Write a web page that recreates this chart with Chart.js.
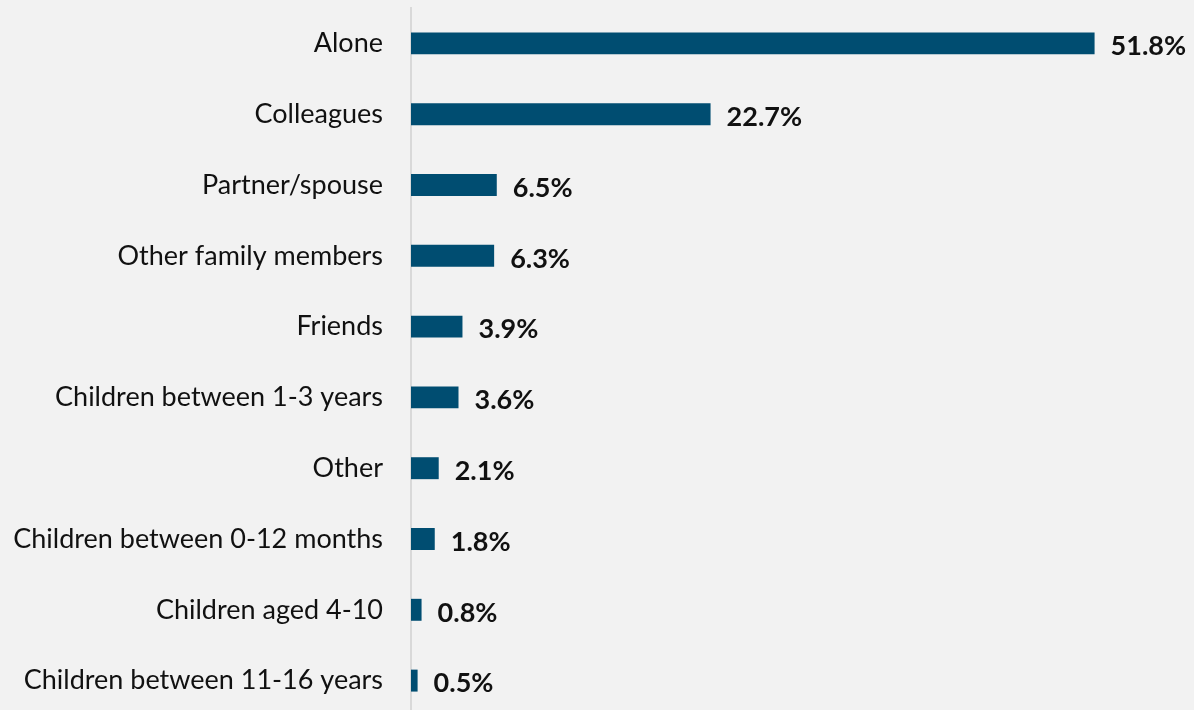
<!DOCTYPE html>
<html>
<head>
<meta charset="utf-8">
<script src="https://cdn.jsdelivr.net/npm/chart.js@4"></script>
<style>
  html, body { margin: 0; padding: 0; background: #f2f2f2; overflow: hidden; }
  #wrap { width: 1194px; height: 716px; position: relative; }
</style>
</head>
<body>
<div id="wrap"><canvas id="withWhom"></canvas></div>
<script>
const categories = [
  'Alone',
  'Colleagues',
  'Partner/spouse',
  'Other family members',
  'Friends',
  'Children between 1-3 years',
  'Other',
  'Children between 0-12 months',
  'Children aged 4-10',
  'Children between 11-16 years'
];
const shares = [51.8, 22.7, 6.5, 6.3, 3.9, 3.6, 2.1, 1.8, 0.8, 0.5];

// value labels at the end of each bar
const valueLabels = {
  id: 'valueLabels',
  afterDatasetsDraw(chart) {
    const ctx = chart.ctx;
    const meta = chart.getDatasetMeta(0);
    ctx.save();
    ctx.font = 'bold 27px Lato';
    ctx.fillStyle = '#111';
    ctx.textAlign = 'left';
    ctx.textBaseline = 'middle';
    meta.data.forEach((bar, i) => {
      ctx.fillText(shares[i].toFixed(1) + '%', bar.x + 16, bar.y + 3);
    });
    ctx.restore();
  }
};

const ctx = document.getElementById('withWhom').getContext('2d');
const withWhomChart = new Chart(ctx, {
  type: 'bar',
  data: {
    labels: categories,
    datasets: [{
      data: shares,
      backgroundColor: '#004d71',
      barPercentage: 0.31,
      categoryPercentage: 1.0
    }]
  },
  plugins: [valueLabels],
  options: {
    indexAxis: 'y',
    responsive: true,
    maintainAspectRatio: false,
    animation: false,
    layout: { padding: { top: 8, right: 44, left: 12, bottom: 0 } },
    plugins: {
      legend: { display: false },
      tooltip: { enabled: false }
    },
    scales: {
      x: {
        min: 0,
        max: 56,
        display: false
      },
      y: {
        grid: { display: false, drawTicks: false },
        border: { display: true, color: '#d9d9d9', width: 2 },
        ticks: {
          color: '#111',
          padding: 28,
          font: { family: 'Lato', size: 27 }
        },
        afterFit(scale) {
          // fixed label column, no extra room above/below the categories
          scale.width = 399;
          scale.paddingTop = 0;
          scale.paddingBottom = 0;
        }
      }
    }
  }
});
</script>
</body>
</html>
